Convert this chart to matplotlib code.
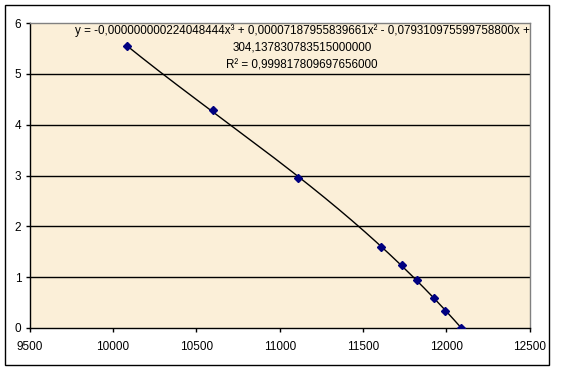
import numpy as np
import matplotlib.pyplot as plt
from matplotlib.patches import Rectangle

plt.rcParams['font.family'] = ['Liberation Sans', 'DejaVu Sans']

x_vals = [10081, 10597, 11107, 11610, 11732, 11824, 11924, 11994, 12086]
y_vals = [5.55, 4.29, 2.945, 1.60, 1.245, 0.944, 0.596, 0.34, 0.0]
x_ticks = [9500, 10000, 10500, 11000, 11500, 12000, 12500]
y_ticks = [0, 1, 2, 3, 4, 5, 6]
eq_lines = [
    'y = -0,000000000224048444x³ + 0,00007187955839661x² - 0,079310975599758800x +',
    '304,137830783515000000',
    'R² = 0,999817809697656000',
]

W, H = 561, 370
fig = plt.figure(figsize=(W / 100, H / 100), dpi=100)
fig.patch.set_facecolor('white')

# outer chart border
fig.patches.append(Rectangle((4.5 / W, 1 - 364.5 / H), 544.5 / W, 359.5 / H,
                             transform=fig.transFigure, fill=False,
                             edgecolor='black', linewidth=1))

ax = fig.add_axes([29.7 / W, 42 / H, 500 / W, 305 / H])
ax.set_facecolor('#FBEFD8')

# trendline (cubic fit like Excel's polynomial trendline)
coef = np.polyfit(x_vals, y_vals, 3)
xs = np.linspace(min(x_vals), max(x_vals), 200)
ax.plot(xs, np.polyval(coef, xs), color='black', linewidth=1.0, zorder=3)
ax.plot(x_vals, y_vals, linestyle='none', marker='D', markersize=3.8,
        color='#000080', zorder=4)

ax.set_xlim(9500, 12500)
ax.set_ylim(0, 6)
ax.set_xticks(x_ticks)
ax.set_yticks(y_ticks)
ax.tick_params(axis='both', direction='out', length=3, width=1, colors='black',
               labelsize=8.5, pad=3)
ax.tick_params(axis='x', pad=6)

for y in y_ticks[1:-1]:
    ax.axhline(y, color='black', linewidth=1, zorder=1)

ax.spines['left'].set_color('black')
ax.spines['bottom'].set_color('black')
ax.spines['top'].set_color('#808080')
ax.spines['right'].set_color('#808080')
for s in ax.spines.values():
    s.set_linewidth(1)

for i, line in enumerate(eq_lines):
    ax.text(302 / W, 1 - (31 + 17 * i) / H, line, transform=fig.transFigure,
            ha='center', va='center', fontsize=8.4, color='black')

fig.savefig('out.png', dpi=100)
